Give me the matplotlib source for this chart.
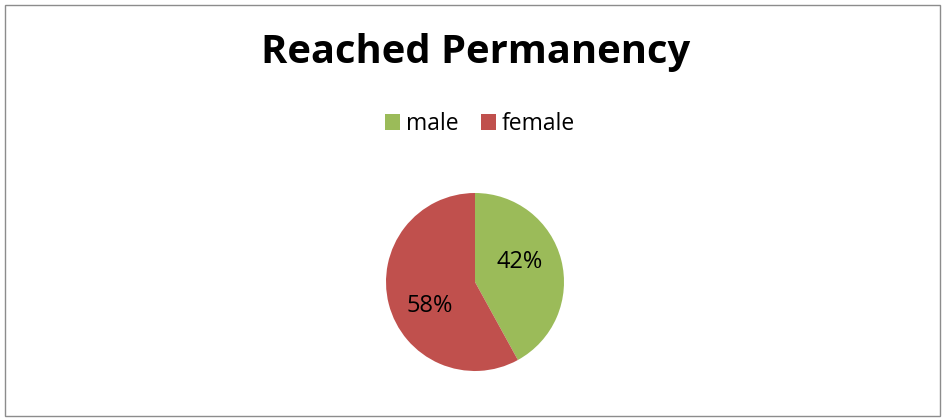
import matplotlib.pyplot as plt
from matplotlib.patches import Rectangle, Patch

labels = ['male', 'female']
values = [42, 58]
colors = ['#9BBB59', '#C0504D']

W, H = 945, 419
fig = plt.figure(figsize=(W / 100, H / 100), dpi=100)

# outer chart border
fig.patches.append(Rectangle((5 / W, 3 / H), 935 / W, 411 / H, transform=fig.transFigure,
                             fill=False, edgecolor='#8c8c8c', linewidth=1))

fig.text(476 / W, 1 - 53 / H, 'Reached Permanency', ha='center', va='center',
         fontsize=28.7, fontweight='bold', family='Open Sans')

# pie axes, centered at (475, 282) with radius ~89px
cx, cy, r = 475, 282, 89
ax = fig.add_axes([(cx - r) / W, 1 - (cy + r) / H, 2 * r / W, 2 * r / H])
wedges, texts, autotexts = ax.pie(values, colors=colors, startangle=90, counterclock=False,
                                  autopct='%1.0f%%', pctdistance=0.57,
                                  textprops={'fontsize': 17, 'family': 'Open Sans'})
# Excel-like label placement
autotexts[0].set_position((0.50, 0.225))
autotexts[1].set_position((-0.505, -0.27))
ax.set_xlim(-1, 1)
ax.set_ylim(-1, 1)
ax.set_aspect('equal')
ax.axis('off')

handles = [Patch(facecolor=c, label=l) for c, l in zip(colors, labels)]
fig.legend(handles=handles, loc='center', bbox_to_anchor=(480 / W, 1 - 124 / H),
           ncol=2, frameon=False, handlelength=0.65, handleheight=0.65,
           handletextpad=0.25, columnspacing=1.0,
           prop={'family': 'Open Sans', 'size': 16.5})

fig.savefig('out.png', dpi=100)
